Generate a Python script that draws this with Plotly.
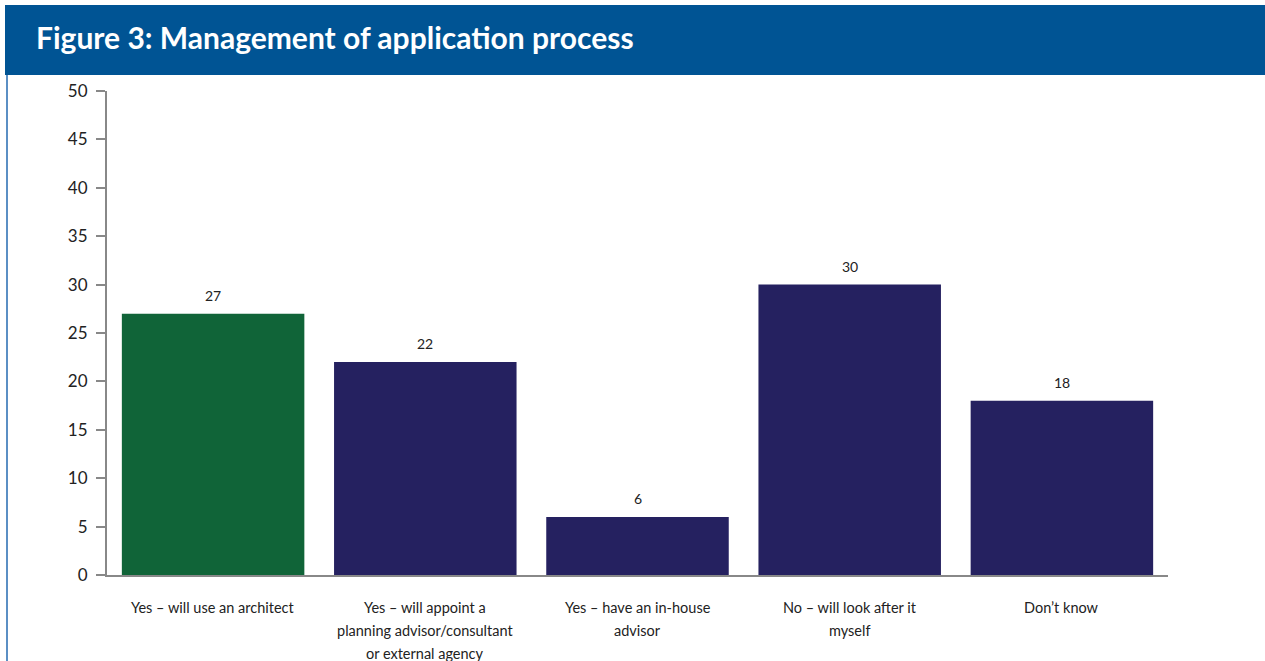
import plotly.graph_objects as go

# Survey responses (% of respondents)
categories = [
    "Yes – will use an architect",
    "Yes – will appoint a planning advisor/consultant or external agency",
    "Yes – have an in-house advisor",
    "No – will look after it myself",
    "Don’t know",
]
label_lines = [
    ["Yes – will use an architect"],
    ["Yes – will appoint a", "planning advisor/consultant", "or external agency"],
    ["Yes – have an in-house", "advisor"],
    ["No – will look after it", "myself"],
    ["Don’t know"],
]
values = [27, 22, 6, 30, 18]
bar_colors = ["#106438", "#252160", "#252160", "#252160", "#252160"]
y_ticks = [0, 5, 10, 15, 20, 25, 30, 35, 40, 45, 50]

W, H = 1265, 661
LEFT, RIGHT, TOP, BOTTOM = 107, 97, 91, 86
plot_w = W - LEFT - RIGHT
plot_h = H - TOP - BOTTOM


def px_x(px):
    return (px - LEFT) / plot_w


def px_y(py):
    return (H - BOTTOM - py) / plot_h


FONT = "Lato"

fig = go.Figure(
    go.Bar(
        x=categories,
        y=values,
        marker=dict(color=bar_colors, line=dict(width=0)),
        hoverinfo="x+y",
    )
)

annotations = []
# value labels above each bar
for cat, v in zip(categories, values):
    annotations.append(
        dict(
            x=cat, y=v, xref="x", yref="y", text=str(v), showarrow=False,
            yanchor="bottom", yshift=8,
            font=dict(family=FONT, size=14, color="#222222"),
        )
    )
# category labels under the axis
for cat, lines in zip(categories, label_lines):
    for i, line in enumerate(lines):
        annotations.append(
            dict(
                x=cat, y=0, xref="x", yref="y", text=line, showarrow=False,
                yanchor="middle", yshift=-32 - 23 * i,
                font=dict(family=FONT, size=14.5, color="#222222"),
            )
        )
# figure heading
annotations.append(
    dict(
        x=px_x(34), y=px_y(37), xref="paper", yref="paper",
        text="<b>Figure 3: Management of application process</b>",
        showarrow=False, xanchor="left", yanchor="middle",
        font=dict(family=FONT, size=30, color="white"),
    )
)

shapes = [
    # heading banner
    dict(type="rect", xref="paper", yref="paper",
         x0=px_x(5), x1=px_x(1266), y0=px_y(75), y1=px_y(5),
         fillcolor="#005494", line=dict(width=0), layer="below"),
    # thin frame line on the left
    dict(type="line", xref="paper", yref="paper",
         x0=px_x(7), x1=px_x(7), y0=px_y(75), y1=px_y(662),
         line=dict(color="#5b8fc4", width=2)),
]

fig.update_layout(
    width=W, height=H,
    margin=dict(l=LEFT, r=RIGHT, t=TOP, b=BOTTOM),
    paper_bgcolor="white", plot_bgcolor="white",
    bargap=0.14,
    showlegend=False,
    font=dict(family=FONT, color="#222222"),
    annotations=annotations,
    shapes=shapes,
    xaxis=dict(
        showticklabels=False, ticks="", showgrid=False, zeroline=False,
        showline=True, linecolor="#888888", linewidth=2,
        fixedrange=True,
    ),
    yaxis=dict(
        range=[0, 50], tickvals=y_ticks, ticks="outside", ticklen=9,
        tickcolor="#888888", tickwidth=2,
        showline=True, linecolor="#888888", linewidth=2,
        showgrid=False, zeroline=False,
        ticklabelstandoff=5,
        tickfont=dict(family=FONT, size=17, color="#222222"),
        fixedrange=True,
    ),
)

fig.write_html("out.html")
